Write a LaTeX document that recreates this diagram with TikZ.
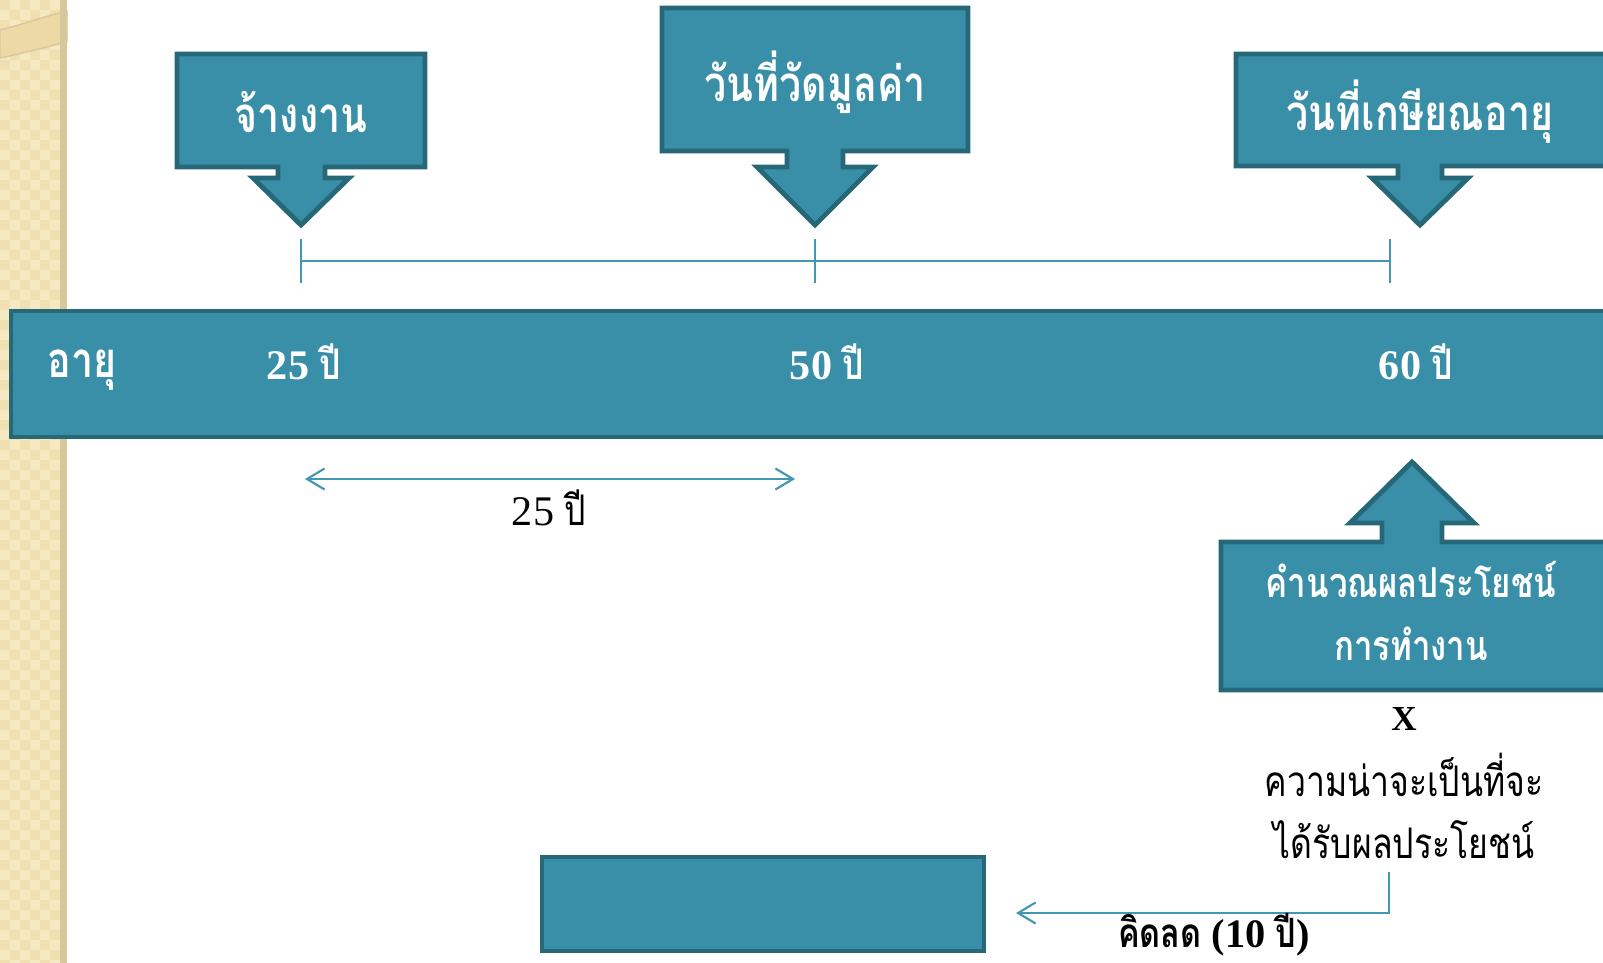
\documentclass[tikz,border=0pt]{standalone}
\usepackage{fontspec}
\setmainfont{Liberation Serif}
\newfontfamily\thai[Script=Thai,FakeStretch=0.8]{Loma}
\usetikzlibrary{arrows.meta}

\definecolor{azul}{RGB}{57,143,167}
\definecolor{borde}{RGB}{38,104,120}
\definecolor{linea}{RGB}{66,152,178}
\definecolor{arena}{RGB}{246,232,192}
\definecolor{arenaosc}{RGB}{239,223,177}
\definecolor{franja}{RGB}{216,199,154}
\definecolor{banda}{RGB}{236,217,165}

\tikzset{
  caja/.style={fill=azul, draw=borde, line width=2.8pt, line join=miter},
  rotulo/.style={text=white, inner sep=0pt, align=center,
    font=\thai\bfseries\fontsize{28}{36}\selectfont},
  cifra/.style={text=white, inner sep=0pt, font=\bfseries\fontsize{24}{28}\selectfont},
  texto/.style={text=black, inner sep=0pt, align=center,
    font=\thai\fontsize{24}{35}\selectfont},
  flecha/.style={draw=linea, line width=1.2pt},
  punta/.tip={Straight Barb[length=10pt,width=12pt]}
}

\begin{document}
\begin{tikzpicture}[x=0.02cm,y=-0.02cm]
        \clip (0,0) rectangle (1603,963);
        \fill[white] (0,0) rectangle (1603,963);
        % Borde decorativo
        \fill[arena] (0,0) rectangle (67,963);
        \foreach \i in {0,20,40}{
            \foreach \j in {0,20,...,960}{
                \fill[arenaosc] (\i,\j) rectangle ++(10,10);
                \fill[arenaosc] (\i+10,\j+10) rectangle ++(10,10);
            }
        }
        \fill[banda, draw=franja, line width=0.8pt] (0,30) .. controls (25,24) and (45,16) .. (67,11)
            -- (67,42) .. controls (45,47) and (25,53) .. (0,58) -- cycle;
        \fill[franja] (60,0) rectangle (67,963);
        % Barra de edades
        \draw[caja] (11,311) rectangle (1620,437);
        \node[rotulo] (edad) at (82,370) {อายุ};
        \node[cifra] (e25) at (304,362) {25 {\thai ปี}};
        \node[cifra] (e50) at (827,362) {50 {\thai ปี}};
        \node[cifra] (e60) at (1416,362) {60 {\thai ปี}};
        % Llamadas
        \draw[caja] (177,54) -- (425,54) -- (425,167) -- (325,167) -- (325,178) -- (349,178)
            -- (301,225) -- (253,178) -- (278,178) -- (278,167) -- (177,167) -- cycle;
        \node[rotulo] (contrato) at (301,112) {จ้างงาน};
        \draw[caja] (662,8) -- (968,8) -- (968,151) -- (843,151) -- (843,167) -- (873,167)
            -- (815,225) -- (757,167) -- (787,167) -- (787,151) -- (662,151) -- cycle;
        \node[rotulo] (valuacion) at (815,82) {วันที่วัดมูลค่า};
        \draw[caja] (1236,54) -- (1620,54) -- (1620,166) -- (1442,166) -- (1442,178) -- (1468,178)
            -- (1420,225) -- (1372,178) -- (1398,178) -- (1398,166) -- (1236,166) -- cycle;
        \node[rotulo] (retiro) at (1420,112) {วันที่เกษียณอายุ};
        \draw[caja] (1412,462) -- (1474,523) -- (1442,523) -- (1442,542) -- (1620,542) -- (1620,690)
            -- (1221,690) -- (1221,542) -- (1382,542) -- (1382,523) -- (1350,523) -- cycle;
        \node[rotulo, font=\thai\bfseries\fontsize{23.5}{36}\selectfont] (beneficio) at (1411,611)
            {คำนวณผลประโยชน์\\การทำงาน};
        % Escala
        \coordinate (t25) at (301,261);
        \coordinate (t50) at (815,261);
        \coordinate (t60) at (1390,261);
        \draw[flecha] (t25) -- (t60);
        \foreach \t in {t25,t50,t60}{
            \draw[flecha] ([yshift=12.6pt]\t) -- ([yshift=-12.6pt]\t);
        }
        % Periodo de servicio
        \coordinate (a25) at (305,479);
        \coordinate (b25) at (795,479);
        \draw[flecha,punta-punta] (a25) -- (b25);
        \node[texto, font=\fontsize{24}{28}\selectfont] (periodo) at (549,508) {25 {\thai ปี}};
        % Probabilidad
        \node[text=black, font=\bfseries\fontsize{20}{22}\selectfont] (por) at (1404,719) {X};
        \node[texto] (prob) at (1404,806) {ความน่าจะเป็นที่จะ\\ได้รับผลประโยชน์};
        % Descuento
        \draw[caja] (542,857) rectangle (984,951);
        \coordinate (d1) at (1389,872);
        \coordinate (d2) at (1016,913);
        \draw[flecha,-punta] (d1) |- (d2);
        \node[text=black, inner sep=0pt, font=\bfseries\fontsize{23}{28}\selectfont] (descuento)
            at (1214,935) {{\thai คิดลด} (10 {\thai ปี})};
\end{tikzpicture}
\end{document}
